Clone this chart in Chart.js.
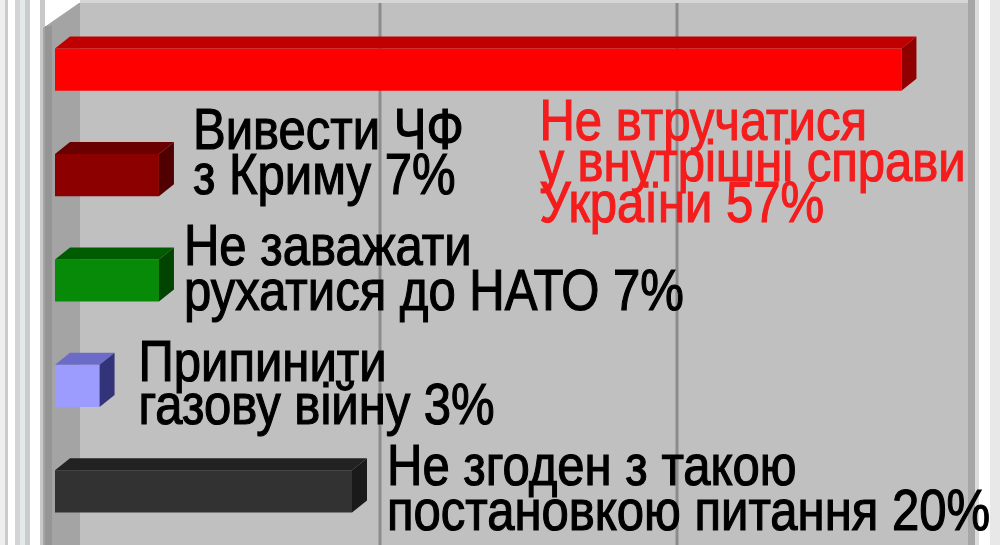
<!DOCTYPE html>
<html>
<head>
<meta charset="utf-8">
<script src="https://cdn.jsdelivr.net/npm/chart.js@4"></script>
<style>
  html, body { margin: 0; padding: 0; background: #fff; }
  #wrap { width: 1000px; height: 545px; }
</style>
</head>
<body>
<div id="wrap"><canvas id="pollChart"></canvas></div>
<script>
// poll answers, one bar per answer
const categories = [
    ['Не втручатися', 'у внутрішні справи', 'України'],
    ['Вивести ЧФ', 'з Криму'],
    ['Не заважати', 'рухатися до НАТО'],
    ['Припинити', 'газову війну'],
    ['Не згоден з такою', 'постановкою питання']
];
const values = [57, 7, 7, 3, 20];
const gridTicks = [20, 40];

// colours: front, top, side
const barColors = ['#ff0000', '#8c0000', '#078a07', '#9c9cff', '#323232'];
const topColors = ['#c00000', '#6a0000', '#005c00', '#6c6cc8', '#222222'];
const sideColors = ['#900000', '#500000', '#004400', '#33337a', '#1a1a1a'];
const textColors = ['#f41c1c', '#000', '#000', '#000', '#000'];

// label placement relative to bar end / bar centre
const labelPos = [
    { dx: -377, dy: 70, lh: 41 },
    { dx: 19, dy: -26, lh: 45 },
    { dx: 10, dy: -16, lh: 45 },
    { dx: 24, dy: -5, lh: 43 },
    { dx: 20, dy: -6, lh: 45 }
];

const DX = 15, DY = 12;

const backdrop = {
    id: 'backdrop',
    beforeDraw(chart) {
        const ctx = chart.ctx;
        const h = chart.height;
        ctx.save();
        ctx.fillStyle = '#fff';
        ctx.fillRect(0, 0, chart.width, h);
        // faint stripes at the far left
        [[0, 5, '#eeeeee'], [5, 3, '#cacaca'], [15, 5, '#d4d4d4'], [20, 5, '#e4eaea'], [25, 5, '#cccccc'], [40, 5, '#c8c8c8']]
            .forEach(s => { ctx.fillStyle = s[2]; ctx.fillRect(s[0], 0, s[1], h); });
        // back panel
        ctx.fillStyle = '#c0c0c0';
        ctx.fillRect(80, 3, 890, h);
        ctx.fillStyle = '#d6d6d6';
        ctx.fillRect(80, 0, 890, 3);
        ctx.fillStyle = '#a6a6a6';
        ctx.fillRect(968, 0, 7, h);
        ctx.fillStyle = '#dcdcdc';
        ctx.fillRect(975, 0, 4, h);
        ctx.fillStyle = '#e8e8e8';
        ctx.fillRect(990, 0, 10, h);
        // left wall
        ctx.fillStyle = '#a4a4a4';
        ctx.beginPath();
        ctx.moveTo(43, 28);
        ctx.lineTo(79, 3);
        ctx.lineTo(80, 3);
        ctx.lineTo(80, h);
        ctx.lineTo(43, h);
        ctx.closePath();
        ctx.fill();
        ctx.fillStyle = '#959595';
        ctx.fillRect(45, 26, 7, h);
        // back grid lines
        const xs = chart.scales.x;
        ctx.strokeStyle = '#8c8c8c';
        ctx.lineWidth = 3;
        gridTicks.forEach(t => {
            const x = xs.getPixelForValue(t) + 28;
            ctx.beginPath();
            ctx.moveTo(x, 3);
            ctx.lineTo(x, h);
            ctx.stroke();
        });
        ctx.restore();
    }
};

const bars3d = {
    id: 'bars3d',
    afterDatasetsDraw(chart) {
        const ctx = chart.ctx;
        const meta = chart.getDatasetMeta(0);
        ctx.save();
        meta.data.forEach((el, i) => {
            const x0 = el.base, x1 = el.x;
            const top = el.y - el.height / 2, bot = el.y + el.height / 2;
            ctx.fillStyle = topColors[i];
            ctx.beginPath();
            ctx.moveTo(x0, top);
            ctx.lineTo(x0 + DX, top - DY);
            ctx.lineTo(x1 + DX, top - DY);
            ctx.lineTo(x1, top);
            ctx.closePath();
            ctx.fill();
            ctx.fillStyle = sideColors[i];
            ctx.beginPath();
            ctx.moveTo(x1, top);
            ctx.lineTo(x1 + DX, top - DY);
            ctx.lineTo(x1 + DX, bot - DY);
            ctx.lineTo(x1, bot);
            ctx.closePath();
            ctx.fill();

            // answer text
            const lines = categories[i].slice();
            lines[lines.length - 1] += ' ' + values[i] + '%';
            const p = labelPos[i];
            ctx.fillStyle = textColors[i];
            ctx.strokeStyle = textColors[i];
            ctx.lineWidth = 1.2;
            ctx.font = '57px "Liberation Sans", Arial, sans-serif';
            ctx.textBaseline = 'alphabetic';
            lines.forEach((ln, k) => {
                ctx.save();
                ctx.translate(x1 + DX + p.dx, el.y + p.dy + k * p.lh);
                ctx.scale(0.86, 1);
                ctx.fillText(ln, 0, 0);
                ctx.strokeText(ln, 0, 0);
                ctx.restore();
            });
        });
        ctx.restore();
    }
};

new Chart(document.getElementById('pollChart'), {
    type: 'bar',
    data: {
        labels: categories.map(c => c.join(' ')),
        datasets: [{
            data: values,
            backgroundColor: barColors,
            borderWidth: 0,
            barPercentage: 0.4,
            categoryPercentage: 1
        }]
    },
    options: {
        indexAxis: 'y',
        responsive: true,
        maintainAspectRatio: false,
        animation: false,
        layout: { padding: { left: 55, right: 54, top: 17, bottom: 1 } },
        scales: {
            x: { display: false, min: 0, max: 60 },
            y: { display: false }
        },
        plugins: {
            legend: { display: false },
            tooltip: { enabled: false }
        }
    },
    plugins: [backdrop, bars3d]
});
</script>
</body>
</html>
